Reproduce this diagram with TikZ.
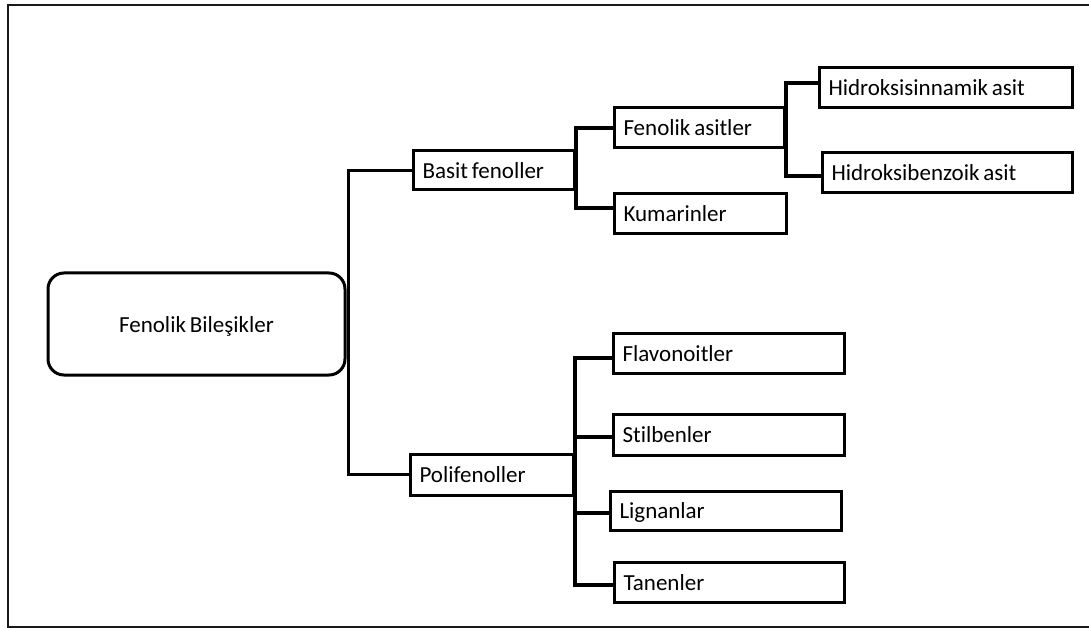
\documentclass[tikz,border=0pt]{standalone}
\usepackage{fontspec}
\setmainfont{Carlito}[Ligatures=NoCommon, WordSpace=0.75]
\usetikzlibrary{calc}
\begin{document}
\begin{tikzpicture}[x=1pt,y=-1pt,
  frame/.style={line width=2.6pt, draw=black!90},
  leaf/.style={draw, line width=3pt, anchor=west, inner xsep=9pt, inner ysep=0pt,
    minimum height=40pt, text height=20pt, text depth=4pt, align=flush left,
    font=\fontsize{23}{27}\selectfont},
  rootbox/.style={draw, line width=3pt, rounded corners=16pt, minimum width=297pt,
    minimum height=102pt, text height=20pt, text depth=4pt,
    font=\fontsize{23}{27}\selectfont},
  link/.style={line width=3.3pt}]
\useasboundingbox (0,0) rectangle (1089,628);
% outer frame
\draw[frame] (1100,5) -- (8,5) -- (8,627) -- (1100,627);

% boxes
\node[rootbox] (root) at (196.5,324) {Fenolik Bileşikler};
\node[leaf, text width=143pt, minimum height=39pt] (basit) at (412,170.5) {Basit fenoller};
\node[leaf, text width=145pt, minimum height=41pt] (poli) at (409,474.5) {Polifenoller};
\node[leaf, text width=152pt] (fen) at (613,128) {Fenolik asitler};
\node[leaf, text width=154pt] (kum) at (613,214) {Kumarinler};
\node[leaf, text width=235pt] (hsin) at (818,88) {Hidroksisinnamik asit};
\node[leaf, text width=232pt] (hben) at (821,173) {Hidroksibenzoik asit};
\node[leaf, text width=213pt] (flav) at (612,353) {Flavonoitler};
\node[leaf, text width=213pt, minimum height=41pt] (stil) at (612,434.5) {Stilbenler};
\node[leaf, text width=213pt, minimum height=39pt] (lign) at (609,510.5) {Lignanlar};
\node[leaf, text width=212pt] (tan) at (613,582) {Tanenler};

% connectors
\draw[link] (basit.west) -| ($(root.east)+(2,0)$) |- (poli.west);
\draw[link] (fen.west) -| (basit.east);
\draw[link] ($(kum.west)+(0,-6)$) -| (basit.east);
\draw[link] ($(hsin.west)+(0,-5)$) -| (fen.east);
\draw[link] ($(hben.west)+(0,3)$) -| (fen.east);
\draw[link] ($(flav.west)+(0,5)$) -| (poli.east);
\draw[link] ($(stil.west)+(0,2.5)$) -| (poli.east);
\draw[link] ($(lign.west)+(0,2.5)$) -| (poli.east);
\draw[link] ($(tan.west)+(0,3)$) -| (poli.east);
\end{tikzpicture}
\end{document}
